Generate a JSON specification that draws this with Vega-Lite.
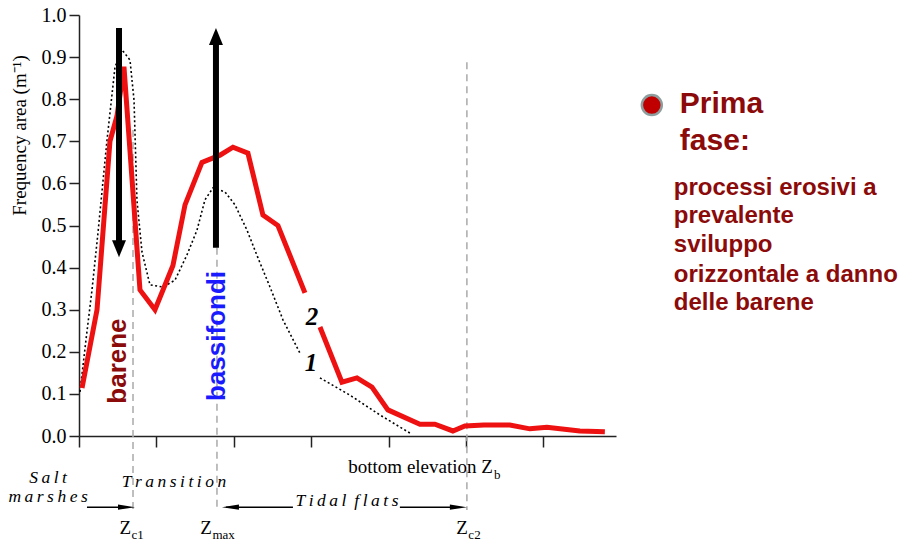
{
  "$schema": "https://vega.github.io/schema/vega-lite/v6.json",
  "width": 537,
  "height": 421,
  "autosize": {"type": "none"},
  "padding": {"left": 79, "top": 15, "right": 286, "bottom": 105},
  "background": "white",
  "config": {"view": {"stroke": null}, "axis": {"grid": false}},
  "datasets": {
    "red": [
      {"x": 0.039, "y": 0.114, "seg": 1}, {"x": 0.233, "y": 0.30, "seg": 1}, {"x": 0.40, "y": 0.70, "seg": 1},
      {"x": 0.491, "y": 0.76, "seg": 1}, {"x": 0.581, "y": 0.877, "seg": 1}, {"x": 0.788, "y": 0.347, "seg": 1},
      {"x": 0.982, "y": 0.30, "seg": 1}, {"x": 1.214, "y": 0.405, "seg": 1}, {"x": 1.370, "y": 0.549, "seg": 1},
      {"x": 1.589, "y": 0.65, "seg": 1}, {"x": 1.822, "y": 0.667, "seg": 1}, {"x": 1.990, "y": 0.686, "seg": 1},
      {"x": 2.183, "y": 0.672, "seg": 1}, {"x": 2.377, "y": 0.525, "seg": 1}, {"x": 2.571, "y": 0.50, "seg": 1},
      {"x": 2.920, "y": 0.34, "seg": 1},
      {"x": 3.114, "y": 0.259, "seg": 2}, {"x": 3.398, "y": 0.128, "seg": 2}, {"x": 3.592, "y": 0.138, "seg": 2},
      {"x": 3.786, "y": 0.116, "seg": 2}, {"x": 3.992, "y": 0.062, "seg": 2}, {"x": 4.406, "y": 0.028, "seg": 2},
      {"x": 4.599, "y": 0.028, "seg": 2}, {"x": 4.832, "y": 0.012, "seg": 2}, {"x": 4.987, "y": 0.024, "seg": 2},
      {"x": 5.233, "y": 0.026, "seg": 2}, {"x": 5.568, "y": 0.026, "seg": 2}, {"x": 5.827, "y": 0.017, "seg": 2},
      {"x": 6.047, "y": 0.021, "seg": 2}, {"x": 6.473, "y": 0.012, "seg": 2}, {"x": 6.796, "y": 0.010, "seg": 2}
    ],
    "dot": [
      {"x": 0.013, "y": 0.105, "seg": 1}, {"x": 0.09, "y": 0.228, "seg": 1}, {"x": 0.168, "y": 0.347, "seg": 1},
      {"x": 0.245, "y": 0.482, "seg": 1}, {"x": 0.362, "y": 0.703, "seg": 1}, {"x": 0.465, "y": 0.876, "seg": 1},
      {"x": 0.556, "y": 0.917, "seg": 1}, {"x": 0.659, "y": 0.893, "seg": 1}, {"x": 0.711, "y": 0.798, "seg": 1},
      {"x": 0.749, "y": 0.56, "seg": 1}, {"x": 0.814, "y": 0.437, "seg": 1}, {"x": 0.917, "y": 0.359, "seg": 1},
      {"x": 1.085, "y": 0.354, "seg": 1}, {"x": 1.240, "y": 0.37, "seg": 1}, {"x": 1.395, "y": 0.43, "seg": 1},
      {"x": 1.525, "y": 0.489, "seg": 1}, {"x": 1.628, "y": 0.561, "seg": 1}, {"x": 1.731, "y": 0.589, "seg": 1},
      {"x": 1.886, "y": 0.58, "seg": 1}, {"x": 2.016, "y": 0.549, "seg": 1}, {"x": 2.171, "y": 0.489, "seg": 1},
      {"x": 2.313, "y": 0.423, "seg": 1}, {"x": 2.468, "y": 0.354, "seg": 1}, {"x": 2.636, "y": 0.276, "seg": 1},
      {"x": 2.855, "y": 0.197, "seg": 1},
      {"x": 3.114, "y": 0.138, "seg": 2}, {"x": 3.501, "y": 0.097, "seg": 2}, {"x": 3.889, "y": 0.05, "seg": 2},
      {"x": 4.276, "y": 0.007, "seg": 2}
    ],
    "dash": [
      {"x": 0.698, "y": 0.727, "y2": -0.176},
      {"x": 1.783, "y": 0.447, "y2": -0.18},
      {"x": 5.013, "y": 0.888, "y2": -0.176}
    ],
    "shaft": [
      {"x": 0.517, "y": 0.969, "y2": 0.463},
      {"x": 1.770, "y": 0.447, "y2": 0.929}
    ],
    "hline": [
      {"x": 0.103, "x2": 0.63, "y": -0.169},
      {"x": 1.90, "x2": 2.765, "y": -0.169},
      {"x": 4.147, "x2": 4.85, "y": -0.169}
    ],
    "head": [
      {"x": 0.517, "y": 0.445, "dir": "down"},
      {"x": 1.770, "y": 0.949, "dir": "up"},
      {"x": 0.614, "y": -0.169, "dir": "right"},
      {"x": 1.957, "y": -0.169, "dir": "left"},
      {"x": 4.903, "y": -0.169, "dir": "right"}
    ],
    "ital": [
      {"x": -0.40, "y": -0.112, "t": "S\u2009a\u2009l\u2009t"},
      {"x": -0.40, "y": -0.157, "t": "m\u2009a\u2009r\u2009s\u2009h\u2009e\u2009s"},
      {"x": 1.227, "y": -0.121, "t": "T\u2009r\u2009a\u2009n\u2009s\u2009i\u2009t\u2009i\u2009o\u2009n"},
      {"x": 3.463, "y": -0.166, "t": "T\u2009i\u2009d\u2009a\u2009l\u2009 f\u2009l\u2009a\u2009t\u2009s"}
    ],
    "roman": [
      {"x": 5.349, "y": -0.088, "t": "bottom elevation Z"},
      {"x": 0.672, "y": -0.232, "t": "Z"},
      {"x": 1.718, "y": -0.232, "t": "Z"},
      {"x": 5.026, "y": -0.232, "t": "Z"}
    ],
    "sub": [
      {"x": 5.362, "y": -0.102, "t": "b"},
      {"x": 0.678, "y": -0.244, "t": "c1"},
      {"x": 1.725, "y": -0.244, "t": "max"},
      {"x": 5.032, "y": -0.244, "t": "c2"}
    ],
    "num": [
      {"x": 3.010, "y": 0.283, "t": "2"},
      {"x": 2.997, "y": 0.173, "t": "1"}
    ],
    "rot": [
      {"x": 0.504, "y": 0.178, "t": "barene"},
      {"x": 1.783, "y": 0.2375, "t": "bassifondi"}
    ],
    "big": [
      {"x": 7.765, "y": 0.767, "t": "Prima"},
      {"x": 7.765, "y": 0.679, "t": "fase:"}
    ],
    "body": [
      {"x": 7.687, "y": 0.572, "t": "processi erosivi a"},
      {"x": 7.687, "y": 0.506, "t": "prevalente"},
      {"x": 7.687, "y": 0.437, "t": "sviluppo"},
      {"x": 7.687, "y": 0.366, "t": "orizzontale a danno"},
      {"x": 7.687, "y": 0.299, "t": "delle barene"}
    ],
    "bullet": [{"x": 7.403, "y": 0.786}]
  },
  "encoding": {
    "x": {
      "field": "x", "type": "quantitative",
      "scale": {"domain": [0, 6.94], "nice": false, "zero": false},
      "axis": {"values": [0, 1, 2, 3, 4, 5, 6], "labels": false, "title": null, "tickSize": 11,
               "domainColor": "#222", "tickColor": "#222", "domainWidth": 1.5, "tickWidth": 1.5}
    },
    "y": {
      "field": "y", "type": "quantitative",
      "scale": {"domain": [0, 1], "nice": false, "zero": false},
      "axis": {"values": [0, 0.1, 0.2, 0.3, 0.4, 0.5, 0.6, 0.7, 0.8, 0.9, 1.0], "format": ".1f",
               "labelFont": "Liberation Serif", "labelFontSize": 20, "labelColor": "black", "labelPadding": 3,
               "tickSize": 10, "tickColor": "#222", "tickWidth": 1.5, "domainColor": "#222", "domainWidth": 1.5,
               "title": "Frequency area (m⁻¹)", "titleFont": "Liberation Serif", "titleFontSize": 19,
               "titleFontWeight": "normal", "titleColor": "black", "titleAngle": 270, "titleX": -60, "titleY": 120,
               "titleAlign": "center", "titleBaseline": "middle"}
    }
  },
  "layer": [
    {"data": {"name": "dash"}, "mark": {"type": "rule", "color": "#aaaaaa", "strokeWidth": 1.5, "strokeDash": [7, 5]},
     "encoding": {"y2": {"field": "y2"}}},
    {"data": {"name": "dot"}, "mark": {"type": "line", "color": "black", "strokeWidth": 1.6, "strokeDash": [2, 2.5]},
     "encoding": {"detail": {"field": "seg"}}},
    {"data": {"name": "red"}, "mark": {"type": "line", "color": "#ee1111", "strokeWidth": 5},
     "encoding": {"detail": {"field": "seg"}}},
    {"data": {"name": "shaft"}, "mark": {"type": "rule", "color": "black", "strokeWidth": 6},
     "encoding": {"y2": {"field": "y2"}}},
    {"data": {"name": "hline"}, "mark": {"type": "rule", "color": "black", "strokeWidth": 1.5},
     "encoding": {"x2": {"field": "x2"}}},
    {"data": {"name": "head"}, "mark": {"type": "point", "filled": true, "color": "black", "opacity": 1, "size": 289},
     "encoding": {"shape": {"field": "dir", "legend": null,
       "scale": {"domain": ["down", "up", "right", "left"],
                 "range": ["M-0.82,-1L0.82,-1L0,1Z", "M-0.82,1L0.82,1L0,-1Z", "M-1,-0.32L1,0L-1,0.32Z", "M1,-0.32L-1,0L1,0.32Z"]}}}},
    {"data": {"name": "ital"}, "mark": {"type": "text", "font": "Liberation Serif", "fontStyle": "italic", "fontSize": 17.5, "align": "center", "baseline": "alphabetic", "color": "black"},
     "encoding": {"text": {"field": "t"}}},
    {"data": {"name": "roman"}, "mark": {"type": "text", "font": "Liberation Serif", "fontSize": 19, "align": "right", "baseline": "alphabetic", "color": "black"},
     "encoding": {"text": {"field": "t"}}},
    {"data": {"name": "sub"}, "mark": {"type": "text", "font": "Liberation Serif", "fontSize": 13, "align": "left", "baseline": "alphabetic", "color": "black"},
     "encoding": {"text": {"field": "t"}}},
    {"data": {"name": "num"}, "mark": {"type": "text", "font": "Liberation Serif", "fontStyle": "italic", "fontWeight": "bold", "fontSize": 25, "align": "center", "baseline": "middle", "color": "black"},
     "encoding": {"text": {"field": "t"}}},
    {"data": {"name": "rot"}, "mark": {"type": "text", "font": "Liberation Sans", "fontWeight": "bold", "fontSize": 26, "angle": 270, "align": "center", "baseline": "middle"},
     "encoding": {"text": {"field": "t"}, "color": {"field": "t", "legend": null, "scale": {"domain": ["barene", "bassifondi"], "range": ["#8b0a0a", "#1a1aff"]}}}},
    {"data": {"name": "bullet"}, "mark": {"type": "point", "shape": "circle", "filled": true, "fill": "#c00000", "stroke": "#8e9e9e", "strokeWidth": 2.5, "opacity": 1, "size": 400}},
    {"data": {"name": "big"}, "mark": {"type": "text", "font": "Liberation Sans", "fontWeight": "bold", "fontSize": 30, "align": "left", "baseline": "alphabetic", "color": "#8b0a0a"},
     "encoding": {"text": {"field": "t"}}},
    {"data": {"name": "body"}, "mark": {"type": "text", "font": "Liberation Sans", "fontWeight": "bold", "fontSize": 24, "align": "left", "baseline": "alphabetic", "color": "#8b0a0a"},
     "encoding": {"text": {"field": "t"}}}
  ]
}
